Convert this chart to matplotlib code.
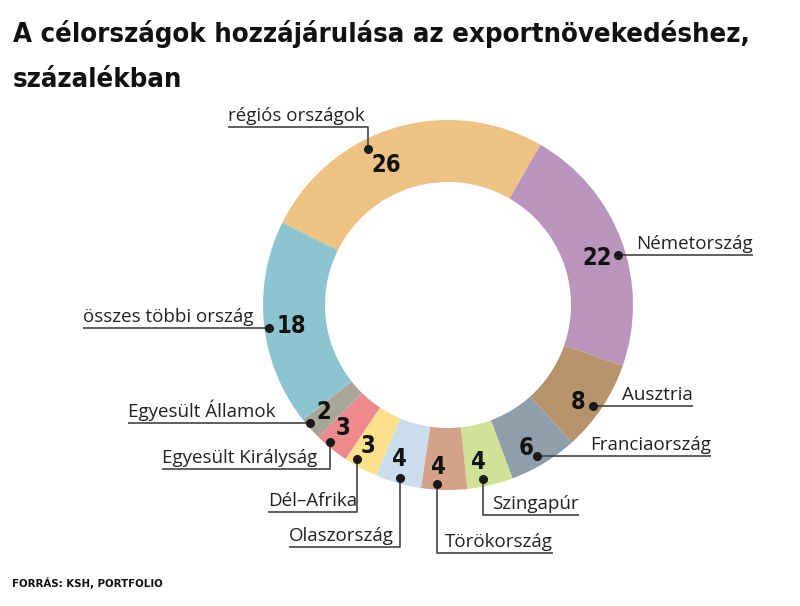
import matplotlib.pyplot as plt

# data
labels = ['régiós országok', 'Németország', 'Ausztria', 'Franciaország', 'Szingapúr',
          'Törökország', 'Olaszország', 'Dél–Afrika', 'Egyesült Királyság',
          'Egyesült Államok', 'összes többi ország']
values = [26, 22, 8, 6, 4, 4, 4, 3, 3, 2, 18]
colors = ['#EDC283', '#B995BD', '#B6936B', '#8E9EAB', '#CFE296', '#D4A189',
          '#C9DDEC', '#FDE08E', '#EC8A8E', '#A9A597', '#8CC5D0']

title_lines = ['A célországok hozzájárulása az exportnövekedéshez,', 'százalékban']
source = 'FORRÁS: KSH, PORTFOLIO'

W, H = 800, 606
def Y(y):
    return H - y

# leader layout in pixel coords: dot, elbow y (None = straight), line end x, number position
layout = [
    ((368, 149), 127, 228, (386, 165)),
    ((618, 255), None, 753, (597, 258)),
    ((593, 406), None, 693, (578, 402)),
    ((537, 456), None, 711, (526, 448)),
    ((483, 479), 515, 579, (478, 462)),
    ((437, 484), 553, 553, (438, 467)),
    ((400, 478), 547, 289, (399, 459)),
    ((357, 459), 512, 268, (368, 446)),
    ((330, 442), 469, 162, (343, 428)),
    ((310, 423), None, 128, (324, 412)),
    ((269, 328), None, 83, (291, 326)),
]

fig = plt.figure(figsize=(8, 6.06), dpi=100)
ax = fig.add_axes([0, 0, 1, 1])

# start angle so that "régiós" ends 30° clockwise from top
start = 90 + values[0] / 100 * 360 - 30
ax.pie(values, colors=colors, startangle=start, counterclock=False,
       center=(448, Y(305)), radius=185, frame=True,
       wedgeprops=dict(width=62, linewidth=0))
ax.set_xlim(0, W)
ax.set_ylim(0, H)
ax.set_aspect('equal')
ax.axis('off')

lab_font = dict(family='Open Sans', fontsize=13.5, color='#222222')
num_font = dict(family='DejaVu Sans', fontstretch='condensed', fontweight='bold',
                fontsize=17, color='#111111')

for lab, val, (dot, elbow, end, num) in zip(labels, values, layout):
    dx, dy = dot
    if elbow is None:
        xs, ys = [dx, end], [dy, dy]
        line_y = dy
    else:
        xs, ys = [dx, dx, end], [dy, elbow, elbow]
        line_y = elbow
    ax.plot(xs, [Y(v) for v in ys], color='#444444', lw=1.2, solid_capstyle='butt')
    ax.plot(dx, Y(dy), 'o', color='#1a1a1a', ms=5.5)
    if end < dx:
        ax.text(end, Y(line_y - 6), lab, ha='left', va='baseline', **lab_font)
    else:
        ax.text(end, Y(line_y - 6), lab, ha='right', va='baseline', **lab_font)
    ax.text(num[0], Y(num[1]), str(val), ha='center', va='center', **num_font)

title_font = dict(family='DejaVu Sans', fontstretch='condensed', fontweight='bold',
                  fontsize=19.7, color='#111111')
for line, base in zip(title_lines, [42, 87]):
    fig.text(13 / W, 1 - base / H, line, ha='left', va='baseline', **title_font)
fig.text(12 / W, 1 - 587 / H, source, ha='left', va='baseline', family='DejaVu Sans',
         fontstretch='condensed', fontweight='bold', fontsize=8.2, color='#111111')

fig.savefig('out.png', dpi=100)
